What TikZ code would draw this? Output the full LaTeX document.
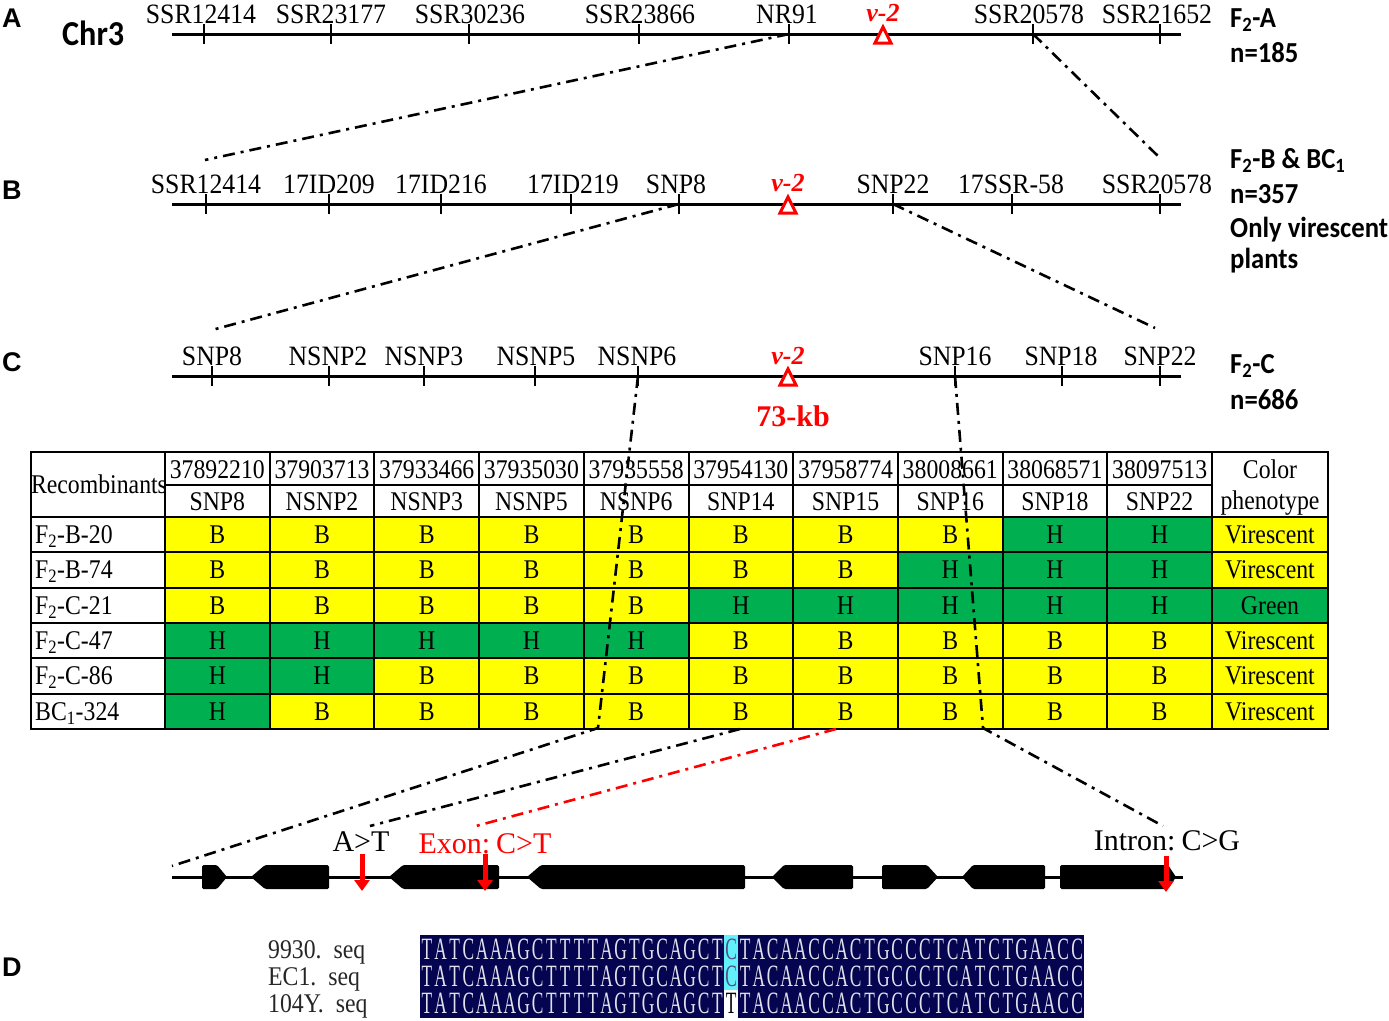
\documentclass[tikz,border=0pt]{standalone}
\usepackage{fontspec}
\setmainfont{Liberation Serif}
\newfontfamily\cndA[FakeStretch=0.92]{Liberation Serif}
\newfontfamily\cndT[FakeStretch=0.88]{Liberation Serif}
\newfontfamily\seqf[FakeStretch=0.56]{Liberation Serif}
\newfontfamily\labf[FakeStretch=0.88]{Liberation Serif}
\newfontfamily\calb[FakeStretch=0.92]{Carlito}
\newfontfamily\arb{Liberation Sans}
\usetikzlibrary{arrows.meta}
\definecolor{yel}{RGB}{255,255,0}
\definecolor{grn}{RGB}{0,176,80}
\colorlet{cellB}{yel}
\colorlet{cellH}{grn}
\definecolor{navy}{RGB}{4,4,80}
\definecolor{cyn}{RGB}{100,240,250}
\definecolor{seqtxt}{RGB}{225,225,235}
\tikzset{
 chr/.style={line width=3pt},
 tk/.style={line width=2.4pt},
 ml/.style={anchor=base, inner sep=0pt, font=\cndA\fontsize{28}{30}\selectfont},
 v2/.style={anchor=base, inner sep=0pt, text=red, font=\bfseries\itshape\fontsize{26}{28}\selectfont},
 tri/.style={draw=red, line width=3pt, fill=white, line join=miter},
 dd/.style={line width=2.6pt, dash pattern=on 12pt off 6pt on 3pt off 6pt},
 rlab/.style={anchor=base west, inner sep=0pt, font=\calb\bfseries\fontsize{29}{31}\selectfont},
 plet/.style={anchor=base west, inner sep=0pt, font=\arb\bfseries\fontsize{27}{29}\selectfont},
 tt/.style={anchor=base, inner sep=0pt, font=\cndT\fontsize{27}{29}\selectfont},
 grd/.style={line width=2pt},
 exon/.style={fill=black, rounded corners=1.5pt},
 mut/.style={red, line width=5pt, -{Triangle[width=15pt,length=11pt]}},
 glab/.style={anchor=base, inner sep=0pt, font=\fontsize{30}{32}\selectfont},
 sq/.style={anchor=base, inner sep=0pt, font=\seqf\fontsize{31}{33}\selectfont},
 sqlab/.style={anchor=base west, inner sep=0pt, text=black!85, font=\labf\fontsize{27}{29}\selectfont},
}
\begin{document}
\begin{tikzpicture}[x=1pt,y=-1pt]
\useasboundingbox (0,0) rectangle (1389,1020);

% ---------- panel letters ----------
\node[plet] (PA) at (2,27) {A};
\node[plet] (PB) at (2,199) {B};
\node[plet] (PC) at (2,371) {C};
\node[plet] (PD) at (2,976) {D};
\node[anchor=base west, inner sep=0pt, font=\calb\bfseries\fontsize{35}{37}\selectfont] (chr3) at (62,45) {Chr3};

% ---------- row A ----------
\draw[chr] (172,34) -- (1181,34);
\foreach \x/\n in {204/1,331/2,469/3,639/4,789/5,1033/6,1160/7}{
  \draw[tk] (\x,24) -- (\x,44);
  \coordinate (A\n) at (\x,34);
}
\node[ml] (la1) at (201,23) {SSR12414};
\node[ml] (la2) at (331,23) {SSR23177};
\node[ml] (la3) at (470,23) {SSR30236};
\node[ml] (la4) at (640,23) {SSR23866};
\node[ml] (la5) at (787,23) {NR91};
\node[ml] (la6) at (1029,23) {SSR20578};
\node[ml] (la7) at (1157,23) {SSR21652};
\node[v2] (va) at (883,21) {v-2};
\draw[tri] (883,27) -- (891,43) -- (875,43) -- cycle;
\node[rlab] (fa1) at (1230,27) {F\textsubscript{2}-A};
\node[rlab] (fa2) at (1230,62) {n=185};

% ---------- row B ----------
\draw[chr] (172,204) -- (1181,204);
\foreach \x/\n in {206/1,329/2,441/3,571/4,679/5,893/6,1012/7,1160/8}{
  \draw[tk] (\x,194) -- (\x,214);
  \coordinate (B\n) at (\x,204);
}
\node[ml] (lb1) at (206,193) {SSR12414};
\node[ml] (lb2) at (329,193) {17ID209};
\node[ml] (lb3) at (441,193) {17ID216};
\node[ml] (lb4) at (573,193) {17ID219};
\node[ml] (lb5) at (676,193) {SNP8};
\node[ml] (lb6) at (893,193) {SNP22};
\node[ml] (lb7) at (1011,193) {17SSR-58};
\node[ml] (lb8) at (1157,193) {SSR20578};
\node[v2] (vb) at (788,191) {v-2};
\draw[tri] (788,197) -- (796,213) -- (780,213) -- cycle;
\node[rlab] (fb1) at (1230,168) {F\textsubscript{2}-B \& BC\textsubscript{1}};
\node[rlab] (fb2) at (1230,203) {n=357};
\node[rlab] (fb3) at (1230,237) {Only virescent};
\node[rlab] (fb4) at (1230,268) {plants};

% ---------- row C ----------
\draw[chr] (172,376) -- (1181,376);
\foreach \x/\n in {212/1,329/2,424/3,535/4,638/5,955/6,1062/7,1160/8}{
  \draw[tk] (\x,366) -- (\x,386);
  \coordinate (C\n) at (\x,376);
}
\node[ml] (lc1) at (212,365) {SNP8};
\node[ml] (lc2) at (328,365) {NSNP2};
\node[ml] (lc3) at (424,365) {NSNP3};
\node[ml] (lc4) at (536,365) {NSNP5};
\node[ml] (lc5) at (637,365) {NSNP6};
\node[ml] (lc6) at (955,365) {SNP16};
\node[ml] (lc7) at (1061,365) {SNP18};
\node[ml] (lc8) at (1160,365) {SNP22};
\node[v2] (vc) at (788,364) {v-2};
\draw[tri] (788,369) -- (796,385) -- (780,385) -- cycle;
\node[anchor=base, inner sep=0pt, text=red, font=\bfseries\fontsize{30}{32}\selectfont] (kb) at (793,426) {73-kb};
\node[rlab] (fc1) at (1230,373) {F\textsubscript{2}-C};
\node[rlab] (fc2) at (1230,409) {n=686};

% ---------- table ----------
\foreach \r/\lab/\vals/\ph/\phc in {
 1/{F\textsubscript{2}-B-20}/{B,B,B,B,B,B,B,B,H,H}/Virescent/yel,
 2/{F\textsubscript{2}-B-74}/{B,B,B,B,B,B,B,H,H,H}/Virescent/yel,
 3/{F\textsubscript{2}-C-21}/{B,B,B,B,B,H,H,H,H,H}/Green/grn,
 4/{F\textsubscript{2}-C-47}/{H,H,H,H,H,B,B,B,B,B}/Virescent/yel,
 5/{F\textsubscript{2}-C-86}/{H,H,B,B,B,B,B,B,B,B}/Virescent/yel,
 6/{BC\textsubscript{1}-324}/{H,B,B,B,B,B,B,B,B,B}/Virescent/yel}{
  \pgfmathsetmacro\yt{517+(\r-1)*35.333}
  \pgfmathsetmacro\yb{\yt+35.333}
  \pgfmathsetmacro\ybase{\yt+26.5}
  \node[tt, anchor=base west] (r\r) at (35,\ybase) {\lab};
  \foreach \v [count=\j] in \vals {
    \pgfmathsetmacro\xl{165+(\j-1)*104.7}
    \pgfmathsetmacro\xr{\xl+104.7}
    \fill[cell\v] (\xl,\yt) rectangle (\xr,\yb);
    \node[tt] (v\r-\j) at ({\xl+52.35},\ybase) {\v};
  }
  \fill[\phc] (1212,\yt) rectangle (1328,\yb);
  \node[tt] (p\r) at (1270,\ybase) {\ph};
}
\foreach \pos/\snp [count=\j] in {37892210/SNP8,37903713/NSNP2,37933466/NSNP3,37935030/NSNP5,37935558/NSNP6,37954130/SNP14,37958774/SNP15,38008661/SNP16,38068571/SNP18,38097513/SNP22}{
  \pgfmathsetmacro\xc{165+(\j-0.5)*104.7}
  \node[tt] (h\j) at (\xc,478) {\pos};
  \node[tt] (s\j) at (\xc,510) {\snp};
}
\node[tt] (hrec) at (99,493) {Recombinants};
\node[tt] (hcol1) at (1270,478) {Color};
\node[tt] (hcol2) at (1270,509) {phenotype};
% grid
\draw[grd] (31,452) rectangle (1328,729);
\draw[grd] (165,485) -- (1212,485);
\foreach \k in {0,...,5}{
  \pgfmathsetmacro\yy{517+\k*35.333}
  \draw[grd] (31,\yy) -- (1328,\yy);
}
\foreach \i in {0,...,10}{
  \pgfmathsetmacro\xx{165+\i*104.7}
  \draw[grd] (\xx,452) -- (\xx,729);
}

% ---------- gene model ----------
\draw[line width=3pt] (172,877) -- (1183,877);
% right-pointed exons
\foreach \a/\b/\t in {202/227/10,882/938/11,1060/1176/8}{
  \fill[exon] (\a,865) -- ({\b-\t},865) -- (\b,877) -- ({\b-\t},889) -- (\a,889) -- cycle;
}
% left-pointed exons
\foreach \a/\b/\t in {251/329/14,389/499/14,527/745/14,772/853/12,962/1045/11}{
  \fill[exon] (\a,877) -- ({\a+\t},865) -- (\b,865) -- (\b,889) -- ({\a+\t},889) -- cycle;
}
\coordinate (m1s) at (362,854); \coordinate (m1e) at (362,891);
\coordinate (m2s) at (485,854); \coordinate (m2e) at (485,891);
\coordinate (m3s) at (1166,856); \coordinate (m3e) at (1166,892);
\draw[mut] (m1s) -- (m1e);
\draw[mut] (m2s) -- (m2e);
\draw[mut] (m3s) -- (m3e);
\node[glab] (gAT) at (361,851) {A>T};
\node[glab, text=red] (gEx) at (485,853) {Exon:\hspace{0.2em}C>T};
\node[glab] (gIn) at (1167,850) {Intron:\hspace{0.2em}C>G};

% ---------- connectors ----------
\coordinate (Bs1) at (205,160);
\coordinate (Bs2) at (1160,158);
\coordinate (Cs1) at (212,330);
\coordinate (Cs2) at (1155,328);
\coordinate (T1) at (598,728);
\coordinate (T2) at (983,728);
\coordinate (T3) at (740,729);
\coordinate (T4) at (836,729);
\coordinate (G1) at (172,866);
\coordinate (G2) at (1163,826);
\coordinate (G3) at (370,826);
\coordinate (G4) at (476,826);
\draw[dd] (A5) -- (Bs1);
\draw[dd] (A6) -- (Bs2);
\draw[dd] (B5) -- (Cs1);
\draw[dd] (B6) -- (Cs2);
\draw[dd] (C5) -- (T1) -- (G1);
\draw[dd] (C6) -- (T2) -- (G2);
\draw[dd] (T3) -- (G3);
\draw[dd, red] (T4) -- (G4);

% ---------- sequences ----------
\node[sqlab] (q1) at (268,958) {9930.\hspace{12pt}seq};
\node[sqlab] (q2) at (268,985) {EC1.\hspace{12pt}seq};
\node[sqlab] (q3) at (268,1012) {104Y.\hspace{12pt}seq};
\fill[navy] (420,935) rectangle (1084,1018);
\fill[cyn] (724,935) rectangle (738,990);
\fill[white] (724,990) rectangle (738,1018);
\foreach \r/\yb in {1/959,2/986,3/1013}{
  \foreach \ch [count=\i] in {T,A,T,C,A,A,A,G,C,T,T,T,T,A,G,T,G,C,A,G,C,T,C,T,A,C,A,A,C,C,A,C,T,G,C,C,C,T,C,A,T,C,T,G,A,A,C,C}{
    \pgfmathsetmacro\xc{420+(\i-0.5)*13.833}
    \ifnum\i=23
      \ifnum\r=3
        \node[sq, text=black] (sq\r-\i) at (\xc,\yb) {T};
      \else
        \node[sq, text=navy!70] (sq\r-\i) at (\xc,\yb) {C};
      \fi
    \else
      \node[sq, text=seqtxt] (sq\r-\i) at (\xc,\yb) {\ch};
    \fi
  }
}
\end{tikzpicture}
\end{document}
